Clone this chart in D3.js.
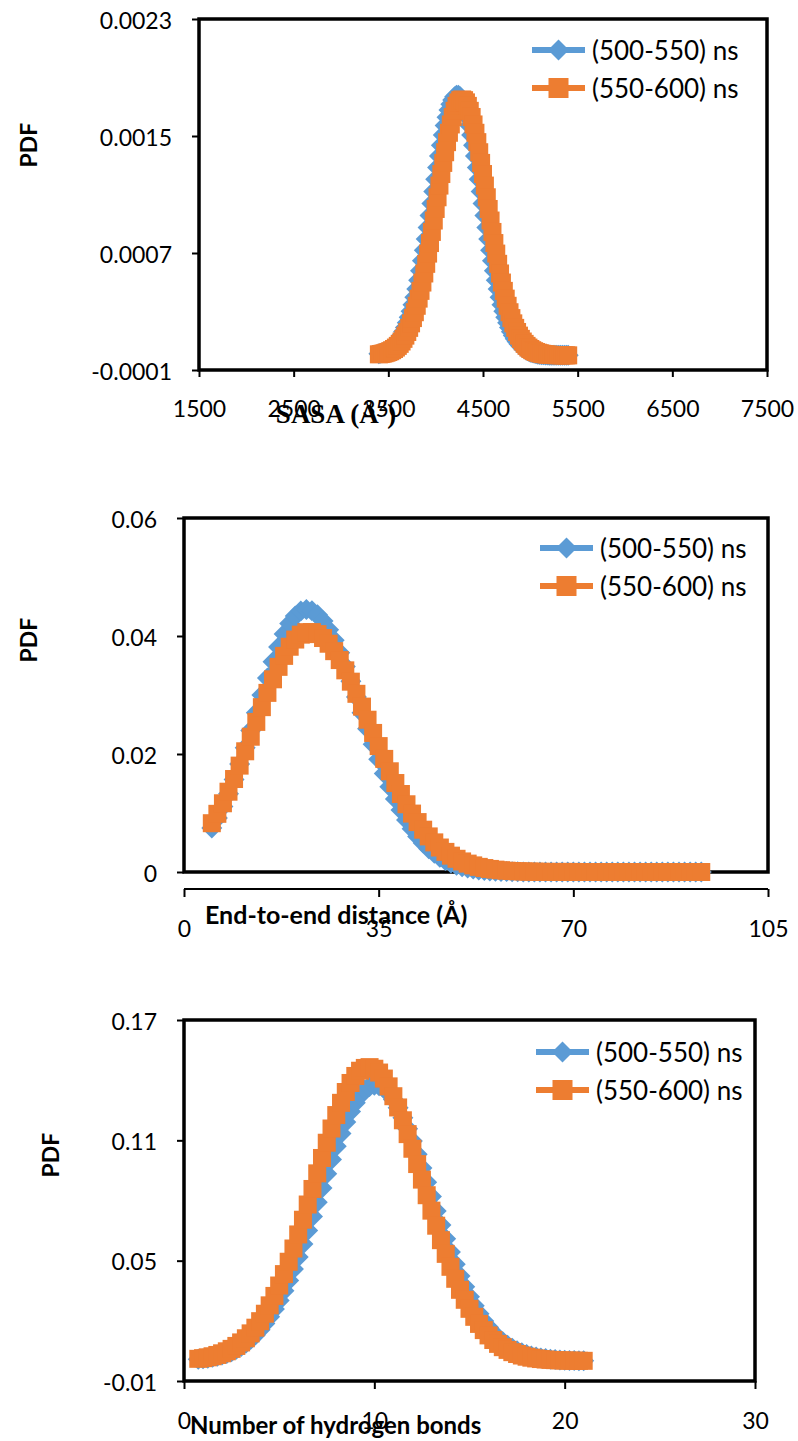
<!DOCTYPE html>
<html>
<head>
<meta charset="utf-8">
<script src="https://cdn.jsdelivr.net/npm/d3@7"></script>
<style>
  html, body { margin: 0; padding: 0; background: #fff; }
  svg { display: block; }
</style>
</head>
<body>
<script>
// ---------- data ----------
const seriesNames = ["(500-550) ns", "(550-600) ns"];

// SASA distribution
const sasaX = [3400,3420,3440,3460,3480,3500,3520,3540,3560,3580,3600,3620,3640,3660,3680,3700,3720,3740,3760,3780,
  3800,3820,3840,3860,3880,3900,3920,3940,3960,3980,4000,4020,4040,4060,4080,4100,4120,4140,4160,4180,
  4200,4220,4240,4260,4280,4300,4320,4340,4360,4380,4400,4420,4440,4460,4480,4500,4520,4540,4560,4580,
  4600,4620,4640,4660,4680,4700,4720,4740,4760,4780,4800,4820,4840,4860,4880,4900,4920,4940,4960,4980,
  5000,5020,5040,5060,5080,5100,5120,5140,5160,5180,5200,5220,5240,5260,5280,5300,5320,5340,5360,5380,5400];
const sasaBlue = [0.0000109,0.0000139,0.0000176,0.0000222,0.0000278,0.0000346,0.0000428,0.0000526,0.0000643,0.0000782,
  0.0000945,0.000114,0.000136,0.000161,0.000190,0.000223,0.000260,0.000301,0.000347,0.000398,
  0.000453,0.000513,0.000578,0.000647,0.000719,0.000795,0.000874,0.000956,0.001038,0.001121,
  0.001204,0.001285,0.001363,0.001437,0.001507,0.001571,0.001628,0.001677,0.001717,0.001747,
  0.001768,0.001779,
  0.001779,0.001768,0.001747,0.001717,0.001677,0.001628,0.001571,0.001507,0.001437,0.001363,
  0.001285,0.001204,0.001121,0.001038,0.000956,0.000874,0.000795,0.000719,0.000647,0.000578,
  0.000513,0.000453,0.000398,0.000347,0.000301,0.000260,0.000223,0.000190,0.000161,0.000136,
  0.000114,0.0000945,0.0000782,0.0000643,0.0000526,0.0000428,0.0000346,0.0000278,0.0000222,0.0000176,
  0.0000139,0.0000109,0.0000085,0.0000066,0.0000051,0.0000039,0.0000030,0.0000022,0.0000017,0.0000013,
  0.0000009,0.0000007,0.0000005,0.0000004,0.0000003,0.0000002,0.0000002,0.0000001,0.0000001];
const sasaOrange = [0.0000071,0.0000090,0.0000115,0.0000146,0.0000184,0.0000230,0.0000286,0.0000355,0.0000437,0.0000534,
  0.0000650,0.0000787,0.0000947,0.000113,0.000135,0.000160,0.000188,0.000219,0.000255,0.000295,
  0.000339,0.000388,0.000441,0.000498,0.000560,0.000626,0.000696,0.000768,0.000844,0.000922,
  0.001001,0.001081,0.001161,0.001240,0.001316,0.001389,0.001458,0.001522,0.001579,0.001630,
  0.001672,0.001706,0.001730,0.001745,
  0.001750,
  0.001745,0.001730,0.001706,0.001672,0.001630,0.001579,0.001522,0.001458,0.001389,0.001316,
  0.001240,0.001161,0.001081,0.001001,0.000922,0.000844,0.000768,0.000696,0.000626,0.000560,
  0.000498,0.000441,0.000388,0.000339,0.000295,0.000255,0.000219,0.000188,0.000160,0.000135,
  0.000113,0.0000947,0.0000787,0.0000650,0.0000534,0.0000437,0.0000355,0.0000286,0.0000230,0.0000184,
  0.0000146,0.0000115,0.0000090,0.0000071,0.0000055,0.0000042,0.0000032,0.0000025,0.0000019,0.0000014,
  0.0000011,0.0000008,0.0000006,0.0000004,0.0000003,0.0000002];
const sasaXTicks = [1500,2500,3500,4500,5500,6500,7500];
const sasaYTicks = [-0.0001,0.0007,0.0015,0.0023];

// End-to-end distance distribution
const e2eX = [5,6,7,8,9,10,11,12,13,14,15,16,17,18,19,20,21,22,23,24,25,26,27,28,29,30,31,32,33,34,35,36,37,38,39,40,41,42,43,44,45,46,47,48,49,50,51,52,53,54,55,56,57,58,59,60,61,62,63,64,65,66,67,68,69,70,71,72,73,74,75,76,77,78,79,80,81,82,83,84,85,86,87,88,89,90,91,92,93];
const e2eBlue = [0.00747,0.00916,0.01110,0.01327,0.01568,0.01829,0.02108,0.02400,0.02699,0.02998,0.03289,0.03563,0.03814,0.04032,0.04210,0.04341,0.04422,0.04450,
  0.04428,0.04362,0.04254,0.04108,0.03927,0.03717,0.03483,0.03231,0.02968,0.02699,0.02430,0.02166,0.01912,0.01670,0.01445,0.01237,
  0.01049,0.00881,0.00732,0.00602,0.00491,0.00396,0.00316,0.00250,0.00195,0.00151,0.00116,0.00088,0.00066,0.00049,0.00036,0.00027,
  0.00019,0.00014,0.00010,0.00007,0.00005,0.00003,0.00002,0.00002,0.00001,0.00001,0.00001,
  0,0,0,0,0,0,0,0,0,0,0,0,0,0,0,0,0,0,0,0,0,0,0,0,0,0,0,0];
const e2eOrange = [0.00827,0.00986,0.01165,0.01361,0.01576,0.01803,0.02046,0.02293,0.02544,0.02794,0.03036,0.03266,0.03477,0.03663,0.03818,0.03940,0.04023,0.04065,
  0.04066,0.04032,0.03966,0.03869,0.03743,0.03592,0.03418,0.03226,0.03020,0.02803,0.02581,0.02357,0.02134,0.01917,0.01707,0.01508,
  0.01322,0.01148,0.00990,0.00846,0.00717,0.00603,0.00502,0.00415,0.00341,0.00277,0.00224,0.00179,0.00142,0.00112,0.00087,0.00067,0.00052,
  0.00040,0.00030,0.00022,0.00017,0.00012,0.00009,0.00007,0.00005,0.00003,0.00002,
  0.00001,0.00001,0.00001,0.00001,0.00001,
  0,0,0,0,0,0,0,0,0,0,0,0,0,0,0,0,0,0,0,0,0,0,0];
const e2eXTicks = [0,35,70,105];
const e2eYTicks = [0,0.02,0.04,0.06];

// Hydrogen-bond count distribution
const hbX = [0.75,1,1.25,1.5,1.75,2,2.25,2.5,2.75,3,3.25,3.5,3.75,4,4.25,4.5,4.75,5,5.25,5.5,5.75,6,6.25,6.5,6.75,7,7.25,7.5,7.75,8,8.25,8.5,8.75,9,9.25,9.5,9.75,10,10.25,10.5,10.75,11,11.25,11.5,11.75,12,12.25,12.5,12.75,13,13.25,13.5,13.75,14,14.25,14.5,14.75,15,15.25,15.5,15.75,16,16.25,16.5,16.75,17,17.25,17.5,17.75,18,18.25,18.5,18.75,19,19.25,19.5,19.75,20,20.25,20.5,20.75,21];
const hbBlue = [0.00080,0.00106,0.00138,0.00178,0.00229,0.00292,0.00369,0.00464,0.00579,0.00716,
  0.00880,0.01073,0.01298,0.01561,0.01861,0.02203,0.02588,0.03020,0.03494,0.04015,
  0.04582,0.05185,0.05827,0.06500,0.07197,0.07909,0.08628,0.09340,0.1004,0.1071,
  0.1134,0.1192,0.1244,0.1288,0.1324,0.1351,0.1368,0.1375,0.1372,0.1359,
  0.1336,0.1303,0.1262,0.1213,0.1158,0.1097,0.1031,0.09624,0.08914,0.08196,
  0.07480,0.06776,0.06093,0.05438,0.04818,0.04236,0.03697,0.03204,0.02756,0.02351,
  0.01992,0.01676,0.01398,0.01159,0.00954,0.00779,0.00631,0.00507,0.00405,0.00321,
  0.00252,0.00197,0.00153,0.00118,0.00090,0.00068,0.00051,0.00038,0.00028,0.00021,
  0.00015,0.00011];
const hbOrange = [0.00106,0.00139,0.00181,0.00234,0.00299,0.00381,0.00481,0.00602,0.00749,0.00924,
  0.01131,0.01375,0.01658,0.01983,0.02354,0.02772,0.03242,0.03761,0.04330,0.04946,
  0.05606,0.06307,0.07041,0.07800,0.08575,0.09353,0.1012,0.1088,0.1159,0.1226,
  0.1287,0.1341,0.1386,0.1421,0.1447,0.1461,0.1465,0.1457,0.1438,0.1408,
  0.1369,0.1320,0.1264,0.1200,0.1131,0.1058,0.09817,0.09042,0.08264,0.07494,
  0.06743,0.06022,0.05339,0.04694,0.04096,0.03547,0.03049,0.02599,0.02200,0.01847,
  0.01538,0.01273,0.01044,0.00851,0.00687,0.00551,0.00438,0.00346,0.00271,0.00211,
  0.00163,0.00125,0.00095,0.00071,0.00053,0.00040,0.00029,0.00021,0.00015,0.00011,
  0.00008,0.00006];
const hbXTicks = [0,10,20,30];
const hbYTicks = [-0.01,0.05,0.11,0.17];

// ---------- drawing ----------
const BLUE = "#5B9BD5", ORANGE = "#ED7D31";
const W = 798, H = 1441;
const FS = 23;
const SANS = "Lato, 'Open Sans', sans-serif";

const svg = d3.select("body").append("svg")
  .attr("width", W).attr("height", H)
  .attr("viewBox", `0 0 ${W} ${H}`)
  .style("font-family", SANS);
svg.append("rect").attr("width", W).attr("height", H).attr("fill", "#fff");

const diamondPath = "M0,-10.5L10.5,0L0,10.5L-10.5,0Z";
const SQ = 18;

// plain hyphen for negative numbers
const hyphen = f => d => f(d).replace("\u2212", "-");

function drawSeries(g, xs, ys, x, y, color, marker) {
  const pts = xs.map((v, i) => [v, ys[i]]).filter(d => d[1] !== undefined);
  g.append("path")
    .datum(pts)
    .attr("fill", "none")
    .attr("stroke", color)
    .attr("stroke-width", 5)
    .attr("stroke-linejoin", "round")
    .attr("d", d3.line().x(d => x(d[0])).y(d => y(d[1])));
  const m = g.append("g").attr("fill", color);
  if (marker === "diamond") {
    m.selectAll("path").data(pts).join("path")
      .attr("d", diamondPath)
      .attr("transform", d => `translate(${x(d[0])},${y(d[1])})`);
  } else {
    m.selectAll("rect").data(pts).join("rect")
      .attr("x", d => x(d[0]) - SQ / 2)
      .attr("y", d => y(d[1]) - SQ / 2)
      .attr("width", SQ).attr("height", SQ);
  }
}

function drawLegend(g, x0, y0) {
  const rows = [
    { name: seriesNames[0], color: BLUE, marker: "diamond" },
    { name: seriesNames[1], color: ORANGE, marker: "square" }
  ];
  rows.forEach((r, i) => {
    const yy = y0 + i * 38;
    g.append("line").attr("x1", x0).attr("x2", x0 + 53).attr("y1", yy).attr("y2", yy)
      .attr("stroke", r.color).attr("stroke-width", 6);
    if (r.marker === "diamond") {
      g.append("path").attr("d", diamondPath).attr("fill", r.color)
        .attr("transform", `translate(${x0 + 26.5},${yy})`);
    } else {
      g.append("rect").attr("x", x0 + 26.5 - 10).attr("y", yy - 10)
        .attr("width", 20).attr("height", 20).attr("fill", r.color);
    }
    g.append("text").attr("x", x0 + 60).attr("y", yy)
      .attr("dominant-baseline", "central")
      .style("font-size", "26px").text(r.name);
  });
}

function panel(cfg) {
  const g = svg.append("g");
  const x = d3.scaleLinear().domain(cfg.xDomain).range([cfg.left, cfg.right]);
  const y = d3.scaleLinear().domain(cfg.yDomain).range([cfg.bottom, cfg.top]);

  // y axis ticks and labels
  const ya = g.append("g").attr("transform", `translate(${cfg.left},0)`)
    .call(d3.axisLeft(y).tickValues(cfg.yTicks).tickSize(7).tickPadding(cfg.yPad)
      .tickFormat(cfg.yFmt));
  ya.select(".domain").remove();
  ya.selectAll(".tick line").attr("stroke", "#000").attr("stroke-width", 2);
  ya.selectAll(".tick text").style("font-size", FS + "px").style("font-family", SANS)
    .attr("fill", "#000").attr("dy", "0.4em");

  // x axis ticks and labels
  const xa = g.append("g").attr("transform", `translate(0,${cfg.xAxisY})`)
    .call(d3.axisBottom(x).tickValues(cfg.xTicks).tickSize(cfg.xTickSize).tickPadding(cfg.xPad)
      .tickFormat(d3.format("d")));
  if (cfg.xDomainLine) {
    xa.select(".domain").attr("stroke", "#000").attr("stroke-width", 2)
      .attr("d", `M${cfg.left},0H${cfg.right}`);
  } else {
    xa.select(".domain").remove();
  }
  xa.selectAll(".tick line").attr("stroke", "#000").attr("stroke-width", 2);
  xa.selectAll(".tick text").style("font-size", FS + "px").style("font-family", SANS)
    .attr("fill", "#000");

  // plot frame
  g.append("rect")
    .attr("x", cfg.left).attr("y", cfg.top)
    .attr("width", cfg.right - cfg.left).attr("height", cfg.bottom - cfg.top)
    .attr("fill", "none").attr("stroke", "#000").attr("stroke-width", 3.5);

  // series
  drawSeries(g, cfg.xs, cfg.blue, x, y, BLUE, "diamond");
  drawSeries(g, cfg.xs, cfg.orange, x, y, ORANGE, "square");

  // axis titles
  g.append("text")
    .attr("transform", `translate(${cfg.yTitleX},${cfg.yTitleY}) rotate(-90)`)
    .attr("text-anchor", "middle").attr("dominant-baseline", "central")
    .style("font-size", "23px").style("font-weight", "bold").text("PDF");
  const xt = g.append("text")
    .attr("x", cfg.xTitleX).attr("y", cfg.xTitleY)
    .attr("dominant-baseline", "central")
    .attr("text-anchor", cfg.xTitleAnchor || "start")
    .style("font-weight", "bold").style("font-size", cfg.xTitleSize + "px")
    .style("font-family", cfg.xTitleFont || SANS);
  cfg.xTitle(xt);

  drawLegend(g, cfg.legX, cfg.legY);
}

panel({
  left: 199, right: 767, top: 19, bottom: 370,
  xDomain: [1500, 7500], yDomain: [-0.0001, 0.0023],
  xTicks: sasaXTicks, yTicks: sasaYTicks,
  yFmt: hyphen(d3.format(".4f")), yPad: 20,
  xAxisY: 370, xTickSize: 7, xPad: 24, xDomainLine: false,
  xs: sasaX, blue: sasaBlue, orange: sasaOrange,
  yTitleX: 28, yTitleY: 145,
  xTitleX: 336, xTitleY: 414, xTitleSize: 27, xTitleAnchor: "middle",
  xTitleFont: "'Liberation Serif', 'DejaVu Serif', serif",
  xTitle: t => { t.append("tspan").text("SASA (Å"); t.append("tspan").style("font-size", "17px").attr("dy", -9).text("2"); t.append("tspan").attr("dy", 9).text(")"); },
  legX: 532, legY: 50
});

panel({
  left: 184, right: 768, top: 518, bottom: 872,
  xDomain: [0, 105], yDomain: [0, 0.06],
  xTicks: e2eXTicks, yTicks: e2eYTicks,
  yFmt: d => d === 0 ? "0" : d3.format(".2f")(d), yPad: 20,
  xAxisY: 889, xTickSize: 8, xPad: 24, xDomainLine: true,
  xs: e2eX, blue: e2eBlue, orange: e2eOrange,
  yTitleX: 28, yTitleY: 640,
  xTitleX: 205, xTitleY: 914, xTitleSize: 25,
  xTitle: t => t.text("End-to-end distance (Å)"),
  legX: 540, legY: 548
});

panel({
  left: 184, right: 755, top: 1020, bottom: 1381,
  xDomain: [0, 30], yDomain: [-0.01, 0.17],
  xTicks: hbXTicks, yTicks: hbYTicks,
  yFmt: hyphen(d3.format(".2f")), yPad: 20,
  xAxisY: 1381, xTickSize: 8, xPad: 24, xDomainLine: false,
  xs: hbX, blue: hbBlue, orange: hbOrange,
  yTitleX: 50, yTitleY: 1155,
  xTitleX: 190, xTitleY: 1424, xTitleSize: 24,
  xTitle: t => t.text("Number of hydrogen bonds"),
  legX: 536, legY: 1052
});
</script>
</body>
</html>
